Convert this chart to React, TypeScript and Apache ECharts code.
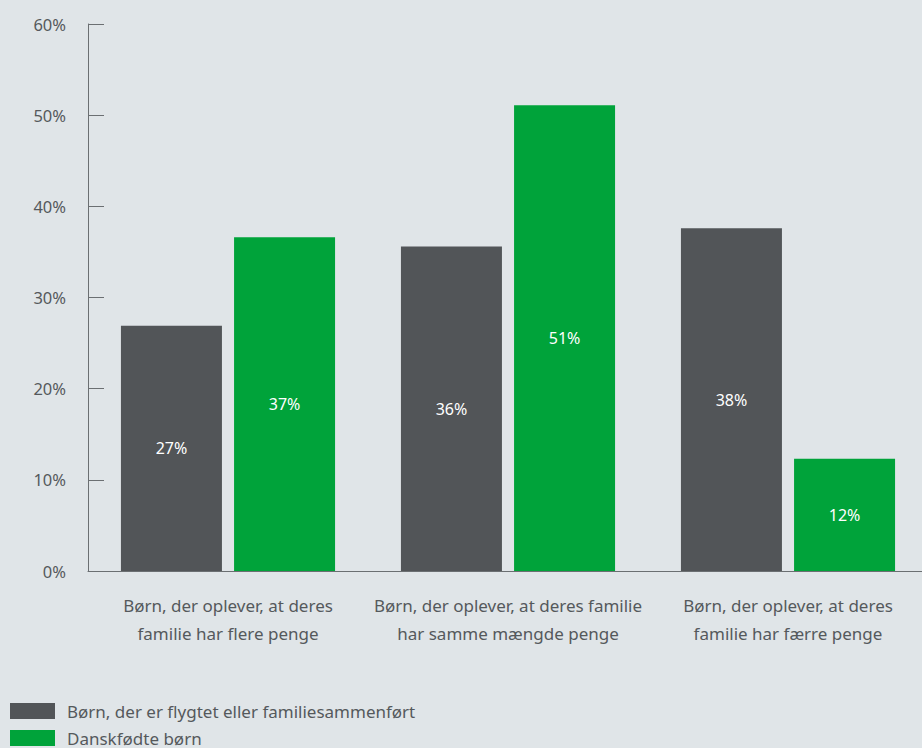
import React, { useEffect, useRef } from "react";
import * as echarts from "echarts";

const categories = [
  "Børn, der oplever, at deres\nfamilie har flere penge",
  "Børn, der oplever, at deres familie\nhar samme mængde penge",
  "Børn, der oplever, at deres\nfamilie har færre penge",
];
const seriesNames = ["Børn, der er flygtet eller familiesammenført", "Danskfødte børn"];
const refugeeValues = [26.9, 35.6, 37.6];
const danishValues = [36.6, 51.1, 12.3];
const yTicks = { min: 0, max: 60, interval: 10 };

const FONT = "'Noto Sans', sans-serif";
const TEXT = "#55595c";
const AXIS = "#6b6f72";

export default function App() {
  const ref = useRef<HTMLDivElement>(null);
  useEffect(() => {
    if (!ref.current) return;
    const chart = echarts.init(ref.current, undefined, { renderer: "svg" });
    const label = {
      show: true,
      position: "inside",
      color: "#ffffff",
      fontSize: 16,
      fontFamily: FONT,
      formatter: (p: any) => Math.round(p.value) + "%",
    };
    const legendBase = {
      orient: "vertical",
      left: 10,
      padding: 0,
      icon: "rect",
      itemWidth: 45,
      itemHeight: 16,
      itemGap: 10,
      textStyle: {
        color: TEXT,
        fontSize: 17,
        lineHeight: 18,
        fontFamily: FONT,
        padding: [0, 0, 0, 7],
      },
    };
    chart.setOption({
      animation: false,
      backgroundColor: "#e0e5e8",
      textStyle: { fontFamily: FONT },
      grid: { left: 88, right: 12, top: 24, bottom: 177, containLabel: false },
      legend: [
        { ...legendBase, top: 702, data: [seriesNames[0]] },
        { ...legendBase, top: 729, data: [seriesNames[1]] },
      ],
      xAxis: {
        type: "category",
        data: categories,
        axisLine: { lineStyle: { color: AXIS, width: 1 } },
        axisTick: { inside: true, length: 15, lineStyle: { color: AXIS } },
        axisLabel: {
          color: TEXT,
          fontSize: 17,
          fontFamily: FONT,
          lineHeight: 28,
          margin: 20,
          interval: 0,
        },
      },
      yAxis: {
        type: "value",
        min: yTicks.min,
        max: yTicks.max,
        interval: yTicks.interval,
        axisLine: { show: true, lineStyle: { color: AXIS, width: 1 } },
        axisTick: { show: true, inside: true, length: 16, lineStyle: { color: AXIS } },
        splitLine: { show: false },
        axisLabel: {
          color: TEXT,
          fontSize: 16.5,
          fontFamily: FONT,
          margin: 22,
          formatter: "{value}%",
        },
      },
      series: [
        {
          name: seriesNames[0],
          type: "bar",
          data: refugeeValues,
          barWidth: 101,
          barGap: "12%",
          itemStyle: { color: "#525558" },
          label,
        },
        {
          name: seriesNames[1],
          type: "bar",
          data: danishValues,
          barWidth: 101,
          barGap: "12%",
          itemStyle: { color: "#00a33a" },
          label,
        },
      ],
    });
    return () => chart.dispose();
  }, []);
  return (
    <div
      style={{ position: "absolute", left: 0, top: 0, width: 922, height: 748, overflow: "hidden" }}
    >
      <div ref={ref} style={{ width: 940, height: 748 }} />
    </div>
  );
}
